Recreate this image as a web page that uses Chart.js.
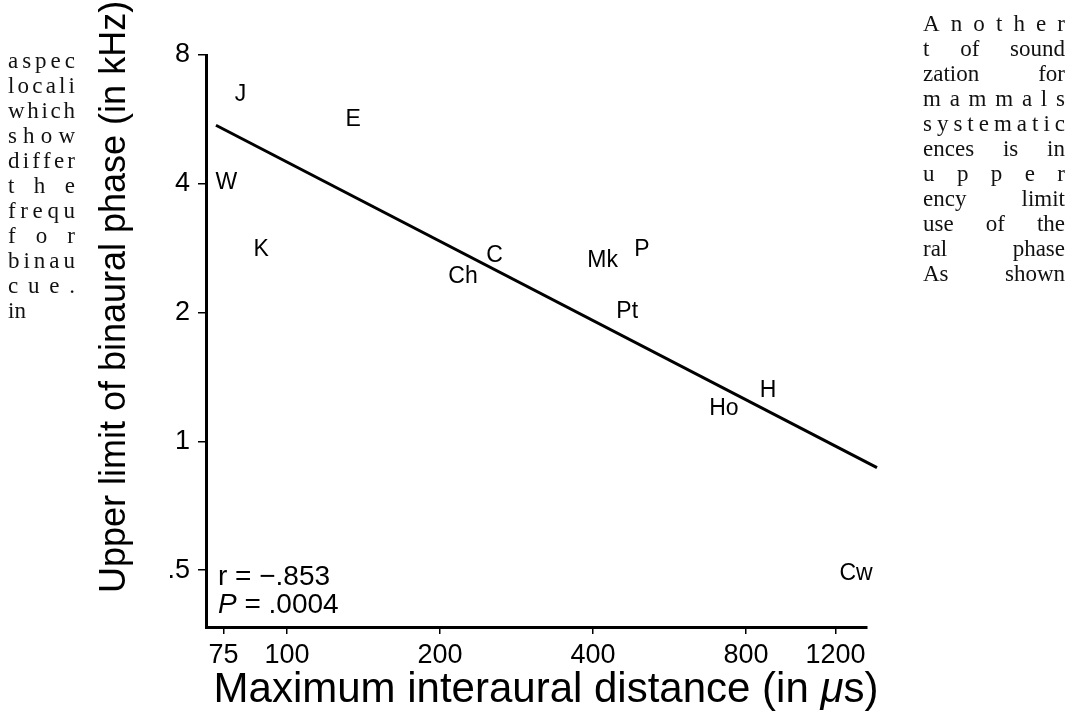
<!DOCTYPE html>
<html>
<head>
<meta charset="utf-8">
<script src="https://cdn.jsdelivr.net/npm/chart.js@4/dist/chart.umd.min.js"></script>
<style>
  html, body { margin: 0; padding: 0; background: #fff; }
  #wrap { position: relative; width: 1073px; height: 724px; overflow: hidden; }
  #chart { position: absolute; left: 0; top: 0; }
  .col { position: absolute; font-family: "Liberation Serif", "Times New Roman", serif; font-size: 23px; color: #111; }
  .col .ln { display: flex; justify-content: space-between; height: 25px; line-height: 25px; white-space: pre; }
  .col .ln.last { justify-content: flex-start; }
</style>
</head>
<body>
<div id="wrap">
  <canvas id="chart" width="1073" height="724"></canvas>
  <div class="col" id="leftCol" style="left:8px; top:48px; width:67px;"></div>
  <div class="col" id="rightCol" style="left:923px; top:11px; width:142px;"></div>
</div>
<script>
// -----------------------------
// DATA
// -----------------------------
const speciesLabels = ["J", "E", "W", "K", "C", "Ch", "Mk", "P", "Pt", "Ho", "H", "Cw"];
const distanceUs   = [81, 135, 76, 89, 256, 222, 418, 499, 467, 724, 884, 1317];
const phaseKHz     = [6.45, 5.66, 4.03, 2.81, 2.72, 2.43, 2.65, 2.81, 2.01, 1.19, 1.31, 0.49];

const fitX = [72.5, 1448];
const fitY = [5.48, 0.868];

const xTicks = [75, 100, 200, 400, 800, 1200];
const yTicks = [0.5, 1, 2, 4, 8];
const yTickText = [".5", "1", "2", "4", "8"];

const leftLines = ["aspec", "locali", "which", "show", "differ", "the", "frequ", "for", "binau", "cue.", "in"];
const rightLines = ["Another", "t of sound", "zation for", "mammals", "systematic", "ences is in", "upper", "ency limit", "use of the", "ral phase", "As shown"];

// -----------------------------
// SIDE TEXT COLUMNS
// -----------------------------
function fillColumn(el, lines, lastPlain) {
    lines.forEach((txt, i) => {
        const row = document.createElement("div");
        row.className = "ln";
        if (lastPlain && i === lines.length - 1) {
            row.className = "ln last";
            row.textContent = txt;
        } else {
            const parts = txt.includes(" ") ? txt.split(" ") : txt.split("");
            parts.forEach(p => {
                const s = document.createElement("span");
                s.textContent = p;
                row.appendChild(s);
            });
        }
        el.appendChild(row);
    });
}
fillColumn(document.getElementById("leftCol"), leftLines, true);
fillColumn(document.getElementById("rightCol"), rightLines, false);

// -----------------------------
// CHART
// -----------------------------
const FONT = "'Liberation Sans', Arial, Helvetica, sans-serif";

const textPlugin = {
    id: "textMarks",
    afterDatasetsDraw(chart) {
        const ctx = chart.ctx;
        const xs = chart.scales.x, ys = chart.scales.y;
        const area = chart.chartArea;
        ctx.save();
        ctx.fillStyle = "#000";

        // species labels at their data positions
        ctx.font = "23px " + FONT;
        ctx.textAlign = "center";
        ctx.textBaseline = "middle";
        speciesLabels.forEach((lab, i) => {
            ctx.fillText(lab, xs.getPixelForValue(distanceUs[i]), ys.getPixelForValue(phaseKHz[i]));
        });

        // statistics
        ctx.textAlign = "left";
        ctx.textBaseline = "alphabetic";
        const sx = area.left + 12;
        ctx.font = "28px " + FONT;
        ctx.fillText("r = \u2212.853", sx, area.bottom - 42);
        ctx.font = "italic 28px " + FONT;
        ctx.fillText("P", sx, area.bottom - 14);
        const pw = ctx.measureText("P").width;
        ctx.font = "28px " + FONT;
        ctx.fillText(" = .0004", sx + pw, area.bottom - 14);

        // x axis title with italic mu
        const t1 = "Maximum interaural distance (in ";
        const t2 = "\u03bc";
        const t3 = "s)";
        ctx.font = "42px " + FONT;
        const w1 = ctx.measureText(t1).width, w3 = ctx.measureText(t3).width;
        ctx.font = "italic 42px " + FONT;
        const w2 = ctx.measureText(t2).width;
        let tx = 546 - (w1 + w2 + w3) / 2;
        const ty = 702;
        ctx.font = "42px " + FONT;
        ctx.fillText(t1, tx, ty); tx += w1;
        ctx.font = "italic 42px " + FONT;
        ctx.fillText(t2, tx, ty); tx += w2;
        ctx.font = "42px " + FONT;
        ctx.fillText(t3, tx, ty);

        // y axis title
        ctx.font = "36px " + FONT;
        ctx.translate(125, 297);
        ctx.rotate(-Math.PI / 2);
        ctx.textAlign = "center";
        ctx.fillText("Upper limit of binaural phase (in kHz)", 0, 0);
        ctx.restore();
    }
};

new Chart(document.getElementById("chart"), {
    type: "scatter",
    data: {
        datasets: [{
            type: "line",
            data: fitX.map((x, i) => ({ x, y: fitY[i] })),
            borderColor: "#000",
            borderWidth: 3,
            pointRadius: 0,
            clip: false
        }, {
            data: distanceUs.map((x, i) => ({ x, y: phaseKHz[i] })),
            pointRadius: 0
        }]
    },
    options: {
        responsive: false,
        animation: false,
        events: [],
        layout: { padding: { left: 0, top: 55, right: 206, bottom: 0 } },
        plugins: { legend: { display: false }, tooltip: { enabled: false } },
        scales: {
            x: {
                type: "logarithmic",
                min: 69.3,
                max: 1384,
                afterBuildTicks: s => { s.ticks = xTicks.map(v => ({ value: v })); },
                afterFit: s => { s.height = 97; },
                ticks: {
                    autoSkip: false,
                    maxRotation: 0,
                    padding: 5,
                    color: "#000",
                    font: { family: FONT, size: 27 },
                    callback: v => String(v)
                },
                grid: { drawOnChartArea: false, drawTicks: true, tickLength: 7, color: "#000", lineWidth: 1.5 },
                border: { display: true, color: "#000", width: 3 }
            },
            y: {
                type: "logarithmic",
                min: 0.368,
                max: 8,
                afterBuildTicks: s => { s.ticks = yTicks.map(v => ({ value: v })); },
                afterFit: s => { s.width = 206; },
                ticks: {
                    autoSkip: false,
                    padding: 8,
                    color: "#000",
                    font: { family: FONT, size: 27 },
                    callback: v => yTickText[yTicks.indexOf(v)]
                },
                grid: { drawOnChartArea: false, drawTicks: true, tickLength: 8, color: "#000", lineWidth: 1.5 },
                border: { display: true, color: "#000", width: 3 }
            }
        }
    },
    plugins: [textPlugin]
});
</script>
</body>
</html>
